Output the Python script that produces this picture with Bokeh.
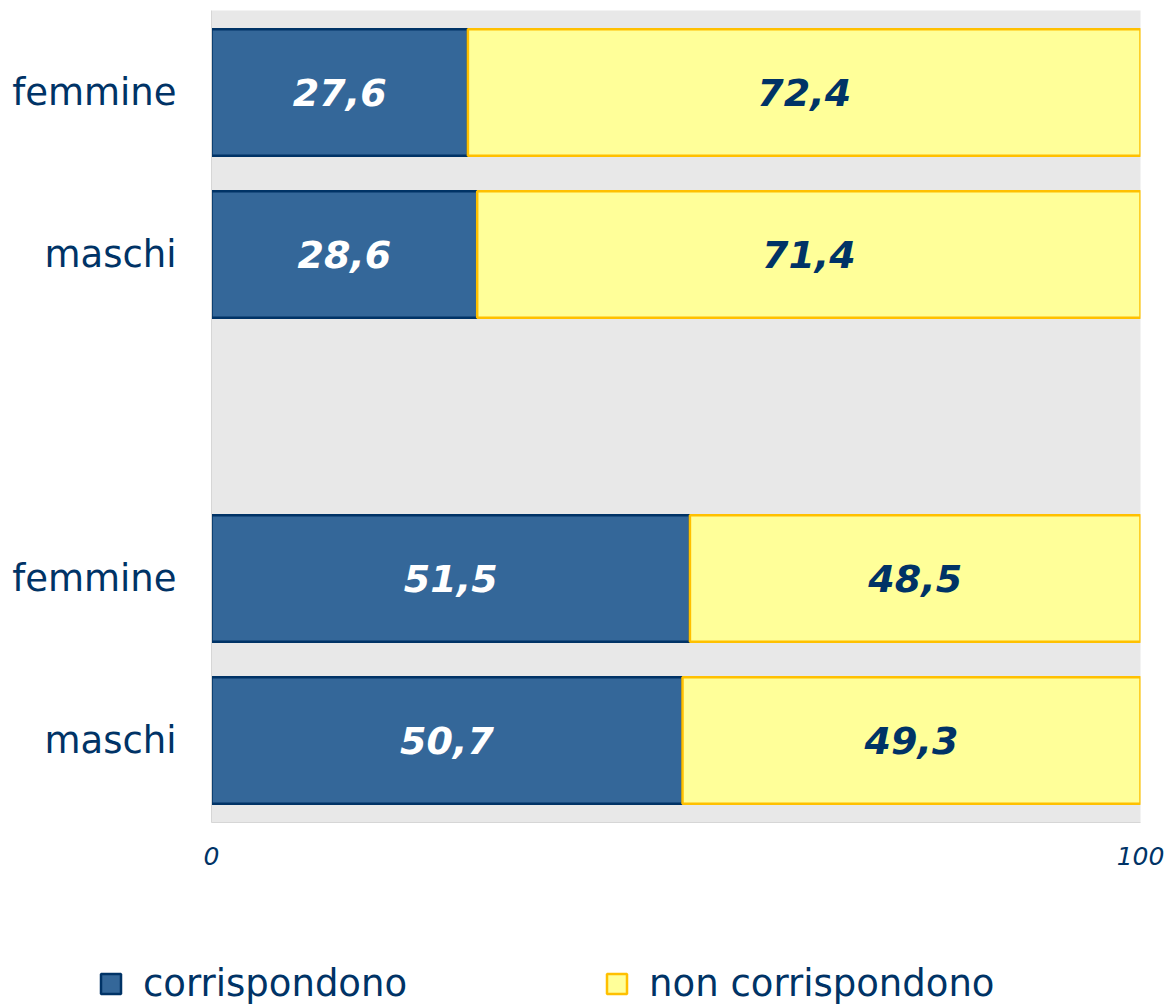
from bokeh.plotting import figure
from bokeh.layouts import column, row
from bokeh.models import Range1d, FixedTicker, Legend, LegendItem, ColumnDataSource
from bokeh.core.properties import value
from bokeh.embed import file_html
from bokeh.resources import INLINE

# ---- data ----
categories = ["femmine", "maschi", "femmine", "maschi"]   # top to bottom
group_sizes = [2, 2]                                      # two groups, separated by an empty slot
corrispondono = [27.6, 28.6, 51.5, 50.7]
non_corrispondono = [72.4, 71.4, 48.5, 49.3]
series_names = ["corrispondono", "non corrispondono"]
x_ticks = [0, 100]

# ---- positions from group structure ----
slots = []
s = 0
for gs in group_sizes:
    for i in range(gs):
        slots.append(s)
        s += 1
    s += 1  # empty slot between groups
n_slots = s - 1
ypos = [n_slots - 1 - sl for sl in slots]

right_non = [a + b for a, b in zip(corrispondono, non_corrispondono)]
mid_corr = [a / 2 for a in corrispondono]
mid_non = [a + b / 2 for a, b in zip(corrispondono, non_corrispondono)]
fmt = lambda v: f"{v:.1f}".replace(".", ",")

src = ColumnDataSource(dict(
    y=ypos, corr=corrispondono, non=non_corrispondono, non_right=right_non,
    mid_corr=mid_corr, mid_non=mid_non,
    lab_corr=[fmt(v) for v in corrispondono],
    lab_non=[fmt(v) for v in non_corrispondono],
))

FONT = "DejaVu Sans"
NAVY = "#003366"
BLUE = "#346799"
YELLOW = "#FFFF99"
GOLD = "#FFC000"
W = 1164

p = figure(width=W, height=880, output_backend="svg", toolbar_location=None,
           x_range=Range1d(0, 100), y_range=Range1d(-0.506, n_slots - 1 + 0.506),
           min_border_left=211, min_border_right=24, min_border_top=10, min_border_bottom=58)
p.background_fill_color = "#E8E8E8"
p.border_fill_color = "white"
p.outline_line_color = None
p.xgrid.visible = False
p.ygrid.visible = False

bar_h = 0.78
r1 = p.hbar(y="y", left=0, right="corr", height=bar_h, source=src,
            fill_color=BLUE, line_color=NAVY, line_width=2.5)
r2 = p.hbar(y="y", left="corr", right="non_right", height=bar_h, source=src,
            fill_color=YELLOW, line_color=GOLD, line_width=2.5)

p.text(x="mid_corr", y="y", text="lab_corr", source=src, text_align="center",
       text_baseline="middle", text_font=value(FONT), text_font_style="bold italic",
       text_font_size="38px", text_color="white")
p.text(x="mid_non", y="y", text="lab_non", source=src, text_align="center",
       text_baseline="middle", text_font=value(FONT), text_font_style="bold italic",
       text_font_size="38px", text_color=NAVY)

# x axis
p.xaxis.ticker = FixedTicker(ticks=x_ticks)
p.xaxis.major_tick_line_color = None
p.xaxis.minor_tick_line_color = None
p.xaxis.axis_line_color = "#D6D6D6"
p.xaxis.major_label_text_font = FONT
p.xaxis.major_label_text_font_style = "italic"
p.xaxis.major_label_text_font_size = "25px"
p.xaxis.major_label_text_color = NAVY
p.xaxis.major_label_standoff = 18

# y axis
p.yaxis.ticker = FixedTicker(ticks=ypos)
p.yaxis.major_label_overrides = {y: c for y, c in zip(ypos, categories)}
p.yaxis.major_tick_line_color = None
p.yaxis.minor_tick_line_color = None
p.yaxis.axis_line_color = "#D6D6D6"
p.yaxis.major_label_text_font = FONT
p.yaxis.major_label_text_font_size = "37px"
p.yaxis.major_label_text_color = NAVY
p.yaxis.major_label_standoff = 29

# ---- legend strip below: its own figure, whose view lies away from the bars ----
pl = figure(width=W, height=128, output_backend="svg", toolbar_location=None,
            x_axis_type=None, y_axis_type=None,
            x_range=Range1d(0, 100), y_range=Range1d(-20, -19),
            min_border_left=0, min_border_right=0, min_border_top=0, min_border_bottom=0)
pl.outline_line_color = None
pl.background_fill_color = "white"
pl.border_fill_color = "white"
pl.grid.visible = False
l1 = pl.rect(x="mid_corr", y="y", width="corr", height=bar_h, source=src,
             fill_color=BLUE, line_color=NAVY, line_width=2.5)
l2 = pl.rect(x="mid_non", y="y", width="non", height=bar_h, source=src,
             fill_color=YELLOW, line_color=GOLD, line_width=2.5)

legend = Legend(items=[LegendItem(label=series_names[0], renderers=[l1]),
                       LegendItem(label=series_names[1], renderers=[l2])],
                orientation="horizontal", location=(98, 3))
legend.glyph_width = 25
legend.glyph_height = 25
legend.label_standoff = 20
legend.spacing = 197
legend.padding = 0
legend.margin = 0
legend.label_text_font = FONT
legend.label_text_font_size = "37px"
legend.label_text_color = NAVY
legend.border_line_alpha = 0
legend.background_fill_alpha = 0
pl.add_layout(legend, "center")

layout = column(p, row(pl), spacing=0)
open("out.html", "w").write(file_html(layout, INLINE))
